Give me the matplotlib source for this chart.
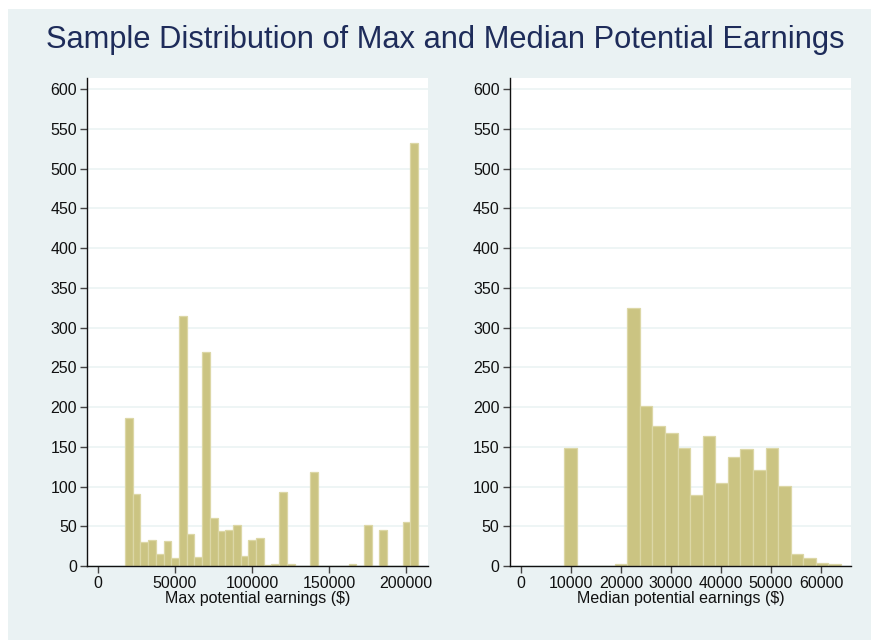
import matplotlib
matplotlib.use('Agg')
import matplotlib.pyplot as plt
import numpy as np
from matplotlib.patches import Rectangle

# Max potential earnings histogram (bin start, width, counts)
max_start = 17700
max_width = 5000
max_counts = [186, 91, 30, 33, 15, 31, 10, 315, 40, 11,
              269, 60, 44, 45, 51, 13, 33, 35, 1, 3,
              93, 2, 0, 0, 118, 0, 0, 0, 0, 3,
              0, 52, 0, 45, 0, 0, 55, 532]

# Median potential earnings histogram
med_start = 8680
med_width = 2515
med_counts = [149, 0, 0, 0, 3, 325, 202, 176, 167, 148,
              89, 164, 105, 137, 147, 121, 149, 101, 15, 10,
              4, 2]

y_ticks = list(range(0, 601, 50))
max_ticks = [0, 50000, 100000, 150000, 200000]
med_ticks = [0, 10000, 20000, 30000, 40000, 50000, 60000]

title = 'Sample Distribution of Max and Median Potential Earnings'
max_label = r'Max potential earnings (\$)'
med_label = r'Median potential earnings (\$)'

bg = '#eaf2f3'
bar_fill = '#cbc482'
bar_edge = '#dcd7a6'
navy = '#1e2c5a'

plt.rcParams['font.family'] = ['Liberation Sans', 'DejaVu Sans']

fig = plt.figure(figsize=(8.71, 6.40), dpi=100)
fig.patches.append(Rectangle((8 / 871, 0), 1 - 8 / 871, 1 - 9 / 640,
                             transform=fig.transFigure, facecolor=bg,
                             edgecolor='none', zorder=-10))

fig.text(445 / 871, 1 - 40 / 640, title, ha='center', va='center',
         fontsize=22.2, color=navy)

ax_max = fig.add_axes([87.3 / 871, 1 - 566 / 640, 341 / 871, 488.3 / 640])
ax_med = fig.add_axes([510 / 871, 1 - 566 / 640, 341 / 871, 488.3 / 640])


def draw_hist(ax, start, width, counts, xticks, xlim, xlabel):
    edges = start + width * np.arange(len(counts))
    ax.bar(edges, counts, width=width, align='edge', color=bar_fill,
           edgecolor=bar_edge, linewidth=0.9, zorder=2)
    ax.set_facecolor('white')
    ax.set_xlim(*xlim)
    ax.set_ylim(0, 614.6)
    ax.set_yticks(y_ticks)
    ax.set_xticks(xticks)
    ax.set_xticklabels([str(t) for t in xticks])
    ax.yaxis.grid(True, color=bg, linewidth=1.1, zorder=0)
    ax.set_axisbelow(True)
    for side in ['top', 'right']:
        ax.spines[side].set_visible(False)
    for side in ['left', 'bottom']:
        ax.spines[side].set_color('#111111')
        ax.spines[side].set_linewidth(1.0)
    ax.tick_params(axis='both', direction='out', length=5, width=1,
                   color='#444444', labelsize=11.5, labelcolor='#111111', pad=2.5)
    ax.set_xlabel(xlabel, fontsize=11.5, color='#111111', labelpad=0)


draw_hist(ax_max, max_start, max_width, max_counts, max_ticks,
          (-6740, 214400), max_label)
draw_hist(ax_med, med_start, med_width, med_counts, med_ticks,
          (-2200, 66000), med_label)

fig.savefig('out.png', dpi=100, facecolor='white')
